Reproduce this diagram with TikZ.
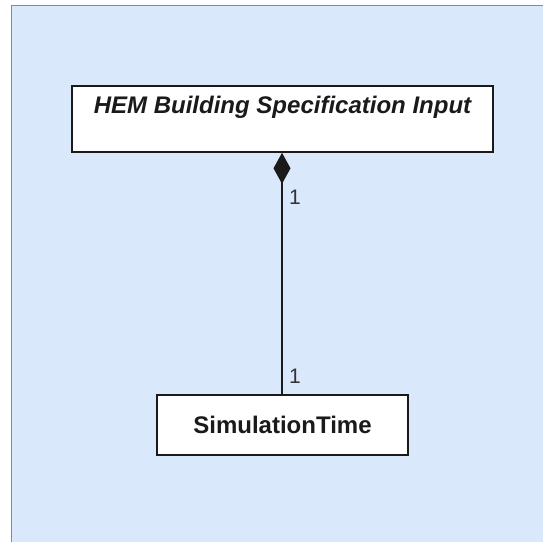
\documentclass[tikz,border=0pt]{standalone}
\usepackage{fontspec}
\setmainfont{Liberation Sans}
\usetikzlibrary{arrows.meta}
\definecolor{bgblue}{HTML}{DAE8FC}
\definecolor{bgborder}{HTML}{6C8EBF}
\definecolor{inkdark}{HTML}{1A1A1A}
\definecolor{labelgray}{HTML}{333333}
\tikzset{
  classbox/.style={draw=inkdark, line width=1.6pt, fill=white, inner sep=0pt, text=inkdark},
  mult/.style={text=labelgray, font=\fontsize{21}{21}\selectfont, inner sep=0pt, anchor=west},
  compo/.style={draw=inkdark, line width=1.3pt, {Diamond[length=31pt,width=17pt,fill=inkdark]}-}
}
\begin{document}
\begin{tikzpicture}[x=1pt,y=-1pt]
\useasboundingbox (0,0) rectangle (543,542);
\fill[white] (0,0) rectangle (543,542);
\fill[bgblue] (11,5) rectangle (543,542);
\draw[bgborder, line width=1pt] (11,542) -- (11,5) -- (543,5);
\node[classbox, minimum width=421pt, minimum height=66pt] (hem) at (282.5,119) {};
\node[inner sep=0pt, text=inkdark, font=\fontsize{24}{24}\selectfont\bfseries\itshape] (hemtxt) at (282.5,107) {HEM Building Specification Input};
\node[classbox, minimum width=251pt, minimum height=60pt, font=\fontsize{24}{24}\selectfont\bfseries] (sim) at (282.5,425) {SimulationTime};
\draw[compo] (hem.south -| 282,0) -- (sim.north -| 282,0);
\node[mult] (m1) at (289,197) {1};
\node[mult] (m2) at (289,376) {1};
\end{tikzpicture}
\end{document}
